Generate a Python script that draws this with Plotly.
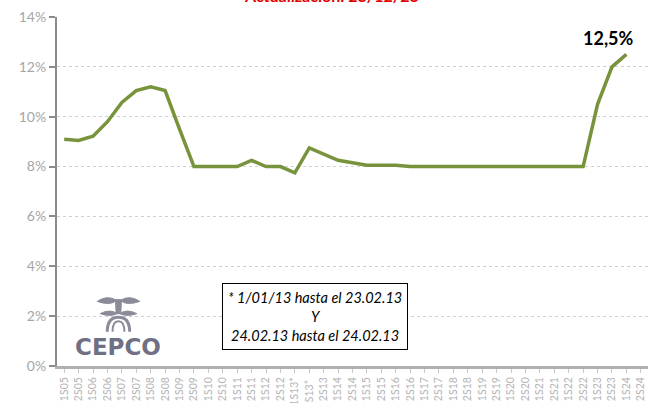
import plotly.graph_objects as go

# Semester labels (two entries for 1S13: split period, see note box)
periods = [
    "1S05", "2S05", "1S06", "2S06", "1S07", "2S07", "1S08", "2S08",
    "1S09", "2S09", "1S10", "2S10", "1S11", "2S11", "1S12", "2S12",
    "1S13*", "1S13* ", "2S13", "1S14", "2S14", "1S15", "2S15", "1S16",
    "2S16", "1S17", "2S17", "1S18", "2S18", "1S19", "2S19", "1S20",
    "2S20", "1S21", "2S21", "1S22", "2S22", "1S23", "2S23", "1S24", "2S24",
]

# Rate in percent per semester (2S24 not yet published)
rate = [
    9.1, 9.05, 9.22, 9.8, 10.57, 11.05, 11.2, 11.05,
    9.5, 8.0, 8.0, 8.0, 8.0, 8.25, 8.0, 8.0,
    7.75, 8.75, 8.5, 8.25, 8.15, 8.05, 8.05, 8.05,
    8.0, 8.0, 8.0, 8.0, 8.0, 8.0, 8.0, 8.0,
    8.0, 8.0, 8.0, 8.0, 8.0, 10.5, 12.0, 12.5, None,
]

y_ticks = [0, 2, 4, 6, 8, 10, 12, 14]
y_tick_text = [f"{v}%" for v in y_ticks]

last_label = "12,5%"
title_text = "Actualización: 23/12/23"
note_text = "* 1/01/13 hasta el 23.02.13<br>Y<br>24.02.13 hasta el 24.02.13"

font_family = "Lato, 'Open Sans', sans-serif"
axis_grey = "#a6a6a6"

fig = go.Figure()
fig.add_trace(go.Scatter(
    x=periods, y=rate, mode="lines",
    line=dict(color="#77933C", width=3.5),
    connectgaps=False, hoverinfo="skip", showlegend=False,
))

# Value label on the latest point
last_idx = max(i for i, v in enumerate(rate) if v is not None)
fig.add_annotation(
    x=periods[last_idx], y=rate[last_idx], text=f"<b>{last_label}</b>",
    showarrow=False, yshift=16, xshift=-18,
    font=dict(family=font_family, size=18, color="#000000"),
)

# Note box
fig.add_annotation(
    xref="paper", yref="paper", x=0.437, xanchor="center",
    y=0.045, yanchor="bottom",
    text=f"<i>{note_text}</i>",
    showarrow=False, align="center",
    font=dict(family=font_family, size=14.5, color="#000000"),
    bordercolor="#000000", borderwidth=1, borderpad=5, bgcolor="#ffffff",
)

# Title (top of the page)
fig.add_annotation(
    xref="paper", yref="paper", x=0.465, xanchor="center",
    y=1.03, yanchor="bottom",
    text=f"<b>{title_text}</b>", showarrow=False,
    font=dict(family=font_family, size=16, color="#e00000"),
)

# CEPCO logo: wordmark plus a simple emblem
fig.add_annotation(
    xref="paper", yref="paper", x=0.104, xanchor="center",
    y=0.054, yanchor="middle", text="<b>CEPCO</b>",
    showarrow=False,
    font=dict(family="'DejaVu Sans', sans-serif", size=23, color="#6f7084"),
)
logo_grey = "#8a8b98"
emblem = [
    # left and right wings
    "M 0.068 0.185 Q 0.085 0.205 0.101 0.188 Q 0.090 0.172 0.068 0.185 Z",
    "M 0.140 0.185 Q 0.123 0.205 0.107 0.188 Q 0.118 0.172 0.140 0.185 Z",
    # central stem
    "M 0.099 0.190 L 0.109 0.190 L 0.108 0.150 L 0.100 0.150 Z",
    # lower leaves
    "M 0.073 0.150 Q 0.090 0.165 0.102 0.150 Q 0.090 0.140 0.073 0.150 Z",
    "M 0.135 0.150 Q 0.118 0.165 0.106 0.150 Q 0.118 0.140 0.135 0.150 Z",
]
for p in emblem:
    fig.add_shape(type="path", path=p, xref="paper", yref="paper",
                  fillcolor=logo_grey, line=dict(color=logo_grey, width=1))
# arch
fig.add_shape(type="path", xref="paper", yref="paper",
              path="M 0.085 0.098 Q 0.085 0.140 0.104 0.140 Q 0.123 0.140 0.123 0.098",
              line=dict(color=logo_grey, width=3))
fig.add_shape(type="path", xref="paper", yref="paper",
              path="M 0.094 0.098 Q 0.094 0.128 0.104 0.128 Q 0.114 0.128 0.114 0.098",
              line=dict(color=logo_grey, width=2))

fig.update_layout(
    width=654, height=403,
    margin=dict(l=57, r=6, t=17, b=37),
    paper_bgcolor="#ffffff", plot_bgcolor="#ffffff",
    font=dict(family=font_family, color=axis_grey),
    xaxis=dict(
        type="category", range=[-0.5, len(periods) - 0.5],
        showgrid=False, showline=True, linecolor="#b0b0b0", linewidth=3,
        ticks="outside", ticklen=4, tickcolor="#c8c8c8", tickwidth=1,
        tickangle=-90, tickfont=dict(size=10.5, color="#b4b4b4"),
        automargin=False, fixedrange=True,
    ),
    yaxis=dict(
        range=[0, 14], tickvals=y_ticks, ticktext=y_tick_text,
        showgrid=True, gridcolor="#d0d0d0", griddash="dot", gridwidth=1,
        showline=True, linecolor="#8c8c8c", linewidth=2,
        ticks="outside", ticklen=6, tickcolor="#8c8c8c", tickwidth=2,
        tickfont=dict(size=14, color="#a6a6a6"), zeroline=False,
        automargin=False, fixedrange=True,
    ),
)

fig.write_html("out.html")
